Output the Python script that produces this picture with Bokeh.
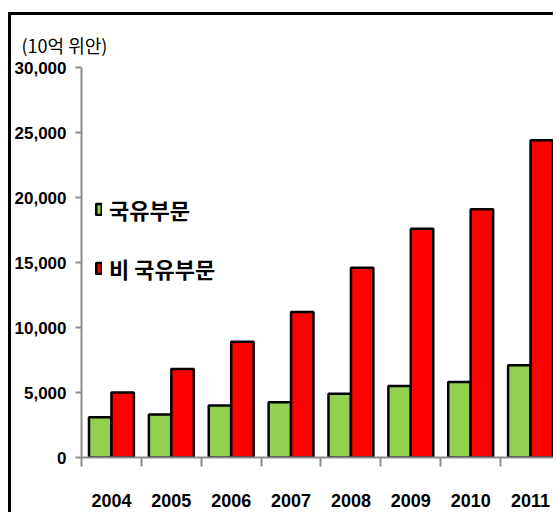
from bokeh.plotting import figure
from bokeh.models import (ColumnDataSource, FixedTicker, NumeralTickFormatter,
                          Legend, LegendItem, Range1d)
from bokeh.embed import file_html
from bokeh.resources import INLINE

# ---- data ----
years = ["2004", "2005", "2006", "2007", "2008", "2009", "2010", "2011"]
state_sector = [3100, 3300, 4000, 4250, 4900, 5500, 5800, 7100]
non_state_sector = [5000, 6800, 8900, 11200, 14600, 17600, 19100, 24400]
series_names = ["국유부문", "비 국유부문"]
y_ticks = [0, 5000, 10000, 15000, 20000, 25000, 30000]
unit_label = "(10억 위안)"

# ---- layout constants ----
W, H = 545, 500
LEFT, TOP = 69, 52
BOTTOM = H - TOP - 390
CAT_PX = 60
bar_w = 0.375
AXIS_GRAY = "#8c8c8c"
NUM_FONT = "Liberation Sans"
KR_FONT = "Noto Sans CJK KR"

idx = list(range(len(years)))
src = ColumnDataSource(dict(
    x_state=[i + 0.5 - bar_w / 2 for i in idx],
    x_non=[i + 0.5 + bar_w / 2 for i in idx],
    state=state_sector,
    non=non_state_sector,
))

p = figure(width=W, height=H, output_backend="svg", toolbar_location=None,
           x_range=Range1d(0, (W - LEFT) / CAT_PX), y_range=Range1d(0, 30000),
           min_border_left=LEFT, min_border_right=0, min_border_top=TOP,
           min_border_bottom=BOTTOM)
p.styles = {"border-top": "3px solid black", "border-left": "3px solid black",
            "margin-top": "12px", "margin-left": "8px"}
p.outline_line_color = None
p.xgrid.visible = False
p.ygrid.visible = False
p.background_fill_color = "white"
p.border_fill_color = "white"

# unit label as left-aligned title
p.title.text = unit_label
p.title.align = "left"
p.title.offset = -60
p.title.standoff = 20
p.title.text_font = KR_FONT
p.title.text_font_size = "18px"
p.title.text_font_style = "normal"
p.title.text_color = "black"

r1 = p.vbar(x="x_state", top="state", width=bar_w, source=src,
            fill_color="#92D050", line_color="black", line_width=2.5)
r2 = p.vbar(x="x_non", top="non", width=bar_w, source=src,
            fill_color="#FF0000", line_color="black", line_width=2.5)

# y axis
ya = p.yaxis[0]
ya.ticker = FixedTicker(ticks=y_ticks)
ya.formatter = NumeralTickFormatter(format="0,0")
ya.axis_line_color = AXIS_GRAY
ya.axis_line_width = 2
ya.major_tick_line_color = AXIS_GRAY
ya.major_tick_line_width = 2
ya.major_tick_out = 6
ya.major_tick_in = 0
ya.minor_tick_out = 0
ya.minor_tick_in = 0
ya.major_label_standoff = 9
ya.major_label_text_font = NUM_FONT
ya.major_label_text_font_size = "17px"
ya.major_label_text_font_style = "bold"
ya.major_label_text_color = "black"

# x axis
xa = p.xaxis[0]
xa.ticker = FixedTicker(ticks=[i + 0.5 for i in idx],
                        minor_ticks=list(range(len(years) + 1)))
xa.major_label_overrides = {i + 0.5: y for i, y in zip(idx, years)}
xa.axis_line_color = AXIS_GRAY
xa.axis_line_width = 2
xa.major_tick_out = 0
xa.major_tick_in = 0
xa.major_tick_line_color = None
xa.minor_tick_out = 9
xa.minor_tick_in = 0
xa.minor_tick_line_color = AXIS_GRAY
xa.minor_tick_line_width = 2
xa.major_label_standoff = 27
xa.major_label_text_font = NUM_FONT
xa.major_label_text_font_size = "18px"
xa.major_label_text_font_style = "bold"
xa.major_label_text_color = "black"

legend = Legend(items=[LegendItem(label=series_names[0], renderers=[r1]),
                       LegendItem(label=series_names[1], renderers=[r2])],
                location=(14, 173), orientation="vertical",
                glyph_width=7, glyph_height=14, label_height=32, spacing=27,
                label_standoff=7, padding=0, margin=0,
                label_text_font=KR_FONT, label_text_font_size="22px",
                label_text_font_style="bold", label_text_color="black",
                border_line_color=None, background_fill_alpha=0)
p.add_layout(legend)

open("out.html", "w").write(file_html(p, INLINE))
